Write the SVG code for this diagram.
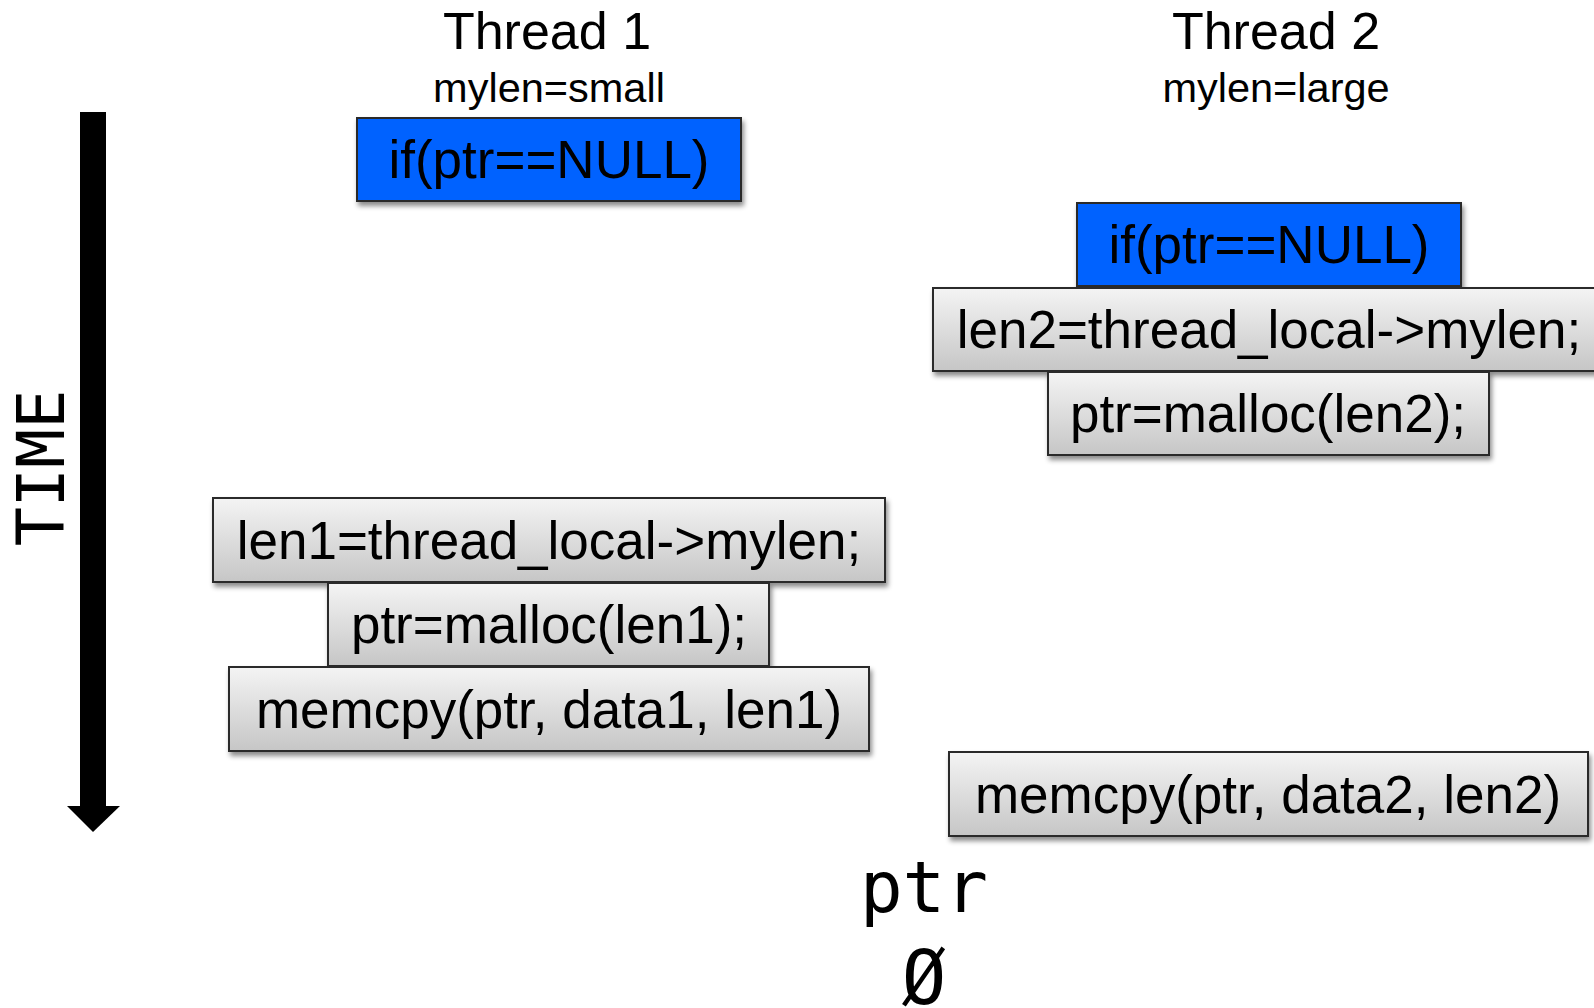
<svg xmlns="http://www.w3.org/2000/svg" width="1594" height="1008" viewBox="0 0 1594 1008">
<style>
.t{font-family:"Liberation Sans",Arial,sans-serif;fill:#000;text-anchor:middle}
.code{font-size:53px}
.title{font-size:52px}
.sub{font-size:41.5px}
.mono{font-family:"DejaVu Sans Mono",monospace;fill:#000}
.box{stroke:#2a2a2a;stroke-width:2;filter:url(#sh)}
.gray{fill:url(#gg)}
.blue{fill:#0062ff}
</style>
<defs>
<linearGradient id="gg" x1="0" y1="0" x2="0" y2="1">
<stop offset="0" stop-color="#f4f4f4"/>
<stop offset="1" stop-color="#c6c6c6"/>
</linearGradient>
<filter id="sh" x="-5%" y="-10%" width="112%" height="130%">
<feDropShadow dx="2" dy="4" stdDeviation="2.5" flood-color="#000" flood-opacity="0.45"/>
</filter>
</defs>
<rect width="1594" height="1008" fill="#fff"/>

<g id="headers">
<text class="t title" x="547" y="49">Thread 1</text>
<text class="t sub" x="549" y="102">mylen=small</text>
<text class="t title" x="1276" y="49">Thread 2</text>
<text class="t sub" x="1276" y="102">mylen=large</text>
</g>

<g id="time-axis">
<rect x="80" y="112" width="26" height="696" fill="#000"/>
<polygon points="67,806 120,806 93,832" fill="#000"/>
<text class="mono" x="0" y="0" font-size="65" text-anchor="middle" transform="translate(64,468) rotate(-90)">TIME</text>
</g>

<g id="connectors"></g>

<g id="t1-if">
<rect class="box blue" x="357" y="118" width="384" height="83"/>
<text class="t code" x="549" y="178">if(ptr==NULL)</text>
</g>

<g id="t2-if">
<rect class="box blue" x="1077" y="203" width="384" height="83"/>
<text class="t code" x="1269" y="263">if(ptr==NULL)</text>
</g>

<g id="t2-len">
<rect class="box gray" x="933" y="288" width="672" height="83"/>
<text class="t code" x="1269" y="348">len2=thread_local-&gt;mylen;</text>
</g>

<g id="t2-malloc">
<rect class="box gray" x="1048" y="372" width="441" height="83"/>
<text class="t code" x="1268" y="432">ptr=malloc(len2);</text>
</g>

<g id="t1-len">
<rect class="box gray" x="213" y="498" width="672" height="84"/>
<text class="t code" x="549" y="559">len1=thread_local-&gt;mylen;</text>
</g>

<g id="t1-malloc">
<rect class="box gray" x="328" y="583" width="441" height="83"/>
<text class="t code" x="549" y="643">ptr=malloc(len1);</text>
</g>

<g id="t1-memcpy">
<rect class="box gray" x="229" y="667" width="640" height="84"/>
<text class="t code" x="549" y="728">memcpy(ptr, data1, len1)</text>
</g>

<g id="t2-memcpy">
<rect class="box gray" x="949" y="752" width="639" height="84"/>
<text class="t code" x="1268" y="813">memcpy(ptr, data2, len2)</text>
</g>

<g id="ptr-label">
<text class="mono" x="924" y="912" font-size="71" text-anchor="middle">ptr</text>
<text class="mono" x="924" y="1004" font-size="74" text-anchor="middle">Ø</text>
</g>
</svg>
